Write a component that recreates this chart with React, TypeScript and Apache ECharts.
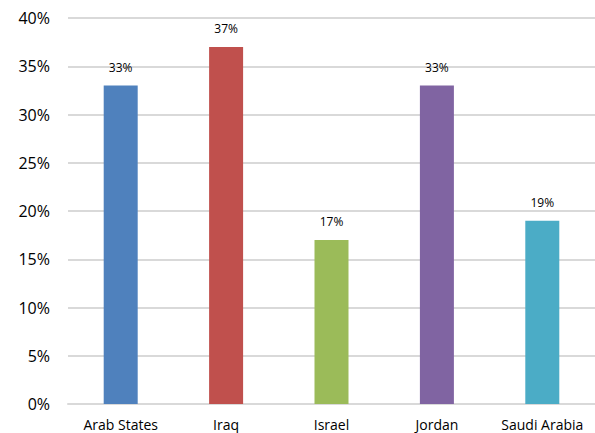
import React, { useEffect, useRef } from "react";
import * as echarts from "echarts";

const categories = ["Arab States", "Iraq", "Israel", "Jordan", "Saudi Arabia"];
const values = [33, 37, 17, 33, 19];
const colors = ["#4F81BD", "#C0504D", "#9BBB59", "#8064A2", "#4BACC6"];

export default function App() {
  const ref = useRef<HTMLDivElement>(null);
  useEffect(() => {
    const chart = echarts.init(ref.current!, null, { renderer: "svg" });
    chart.setOption({
      animation: false,
      grid: { left: 68, top: 18, width: 530, height: 386, containLabel: false },
      xAxis: {
        type: "category",
        data: categories,
        axisTick: { show: false },
        axisLine: { lineStyle: { color: "#d9d9d9", width: 2 } },
        axisLabel: { color: "#000", fontSize: 14, fontFamily: "Open Sans", margin: 13, interval: 0 },
      },
      yAxis: {
        type: "value",
        min: 0,
        max: 40,
        interval: 5,
        axisLabel: { formatter: "{value}%", color: "#000", fontSize: 16, fontFamily: "Open Sans", margin: 18 },
        splitLine: { lineStyle: { color: "#d9d9d9", width: 2 } },
        axisLine: { show: false },
        axisTick: { show: false },
      },
      series: [
        {
          type: "bar",
          data: values.map((v, i) => ({ value: v, itemStyle: { color: colors[i] } })),
          barWidth: 34,
          label: {
            show: true,
            position: "top",
            distance: 12,
            formatter: "{c}%",
            color: "#000",
            fontSize: 12,
            fontFamily: "Open Sans",
          },
        },
      ],
    });
    return () => chart.dispose();
  }, []);
  return <div ref={ref} style={{ width: 595, height: 433, position: "absolute", left: 0, top: 0 }} />;
}
